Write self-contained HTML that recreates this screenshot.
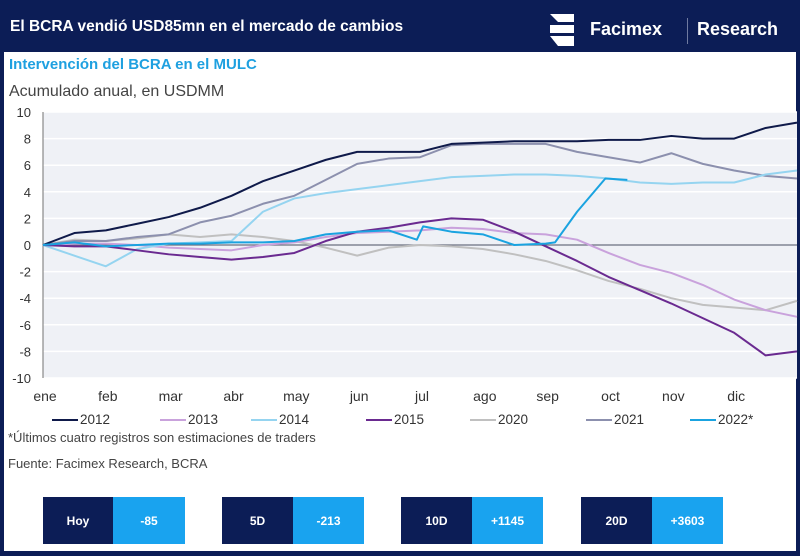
<!DOCTYPE html>
<html><head><meta charset="utf-8">
<style>
body{margin:0;background:#000;}
#frame{position:relative;width:800px;height:556px;background:#0c1d56;overflow:hidden;font-family:"Liberation Sans",sans-serif;}
#panel{position:absolute;left:4px;top:52px;width:792px;height:499px;background:#fff;}
.t{position:absolute;white-space:nowrap;}
.box{position:absolute;top:497px;height:47px;color:#fff;font-weight:bold;font-size:12px;display:flex;align-items:center;justify-content:center;}
</style></head><body>
<div id="frame">
<div class="t" style="left:10px;top:18px;color:#fff;font-weight:bold;font-size:15.5px;">El BCRA vendió USD85mn en el mercado de cambios</div>
<svg style="position:absolute;left:548px;top:12px" width="30" height="36" viewBox="0 0 30 36"><path d="M2 2h24v8H10z" fill="#fff"/><path d="M2 13h24v8H2z" fill="#fff"/><path d="M2 24h24v10H10z" fill="#fff"/></svg>
<div class="t" style="left:590px;top:19px;color:#fff;font-weight:bold;font-size:18px;">Facimex</div>
<div style="position:absolute;left:687px;top:18px;width:1px;height:26px;background:#6f7aa0"></div>
<div class="t" style="left:697px;top:19px;color:#fff;font-weight:bold;font-size:18px;">Research</div>
<div id="panel"></div>
<div class="t" style="left:9px;top:56px;color:#1ea0e0;font-weight:bold;font-size:15px;">Intervención del BCRA en el MULC</div>
<div class="t" style="left:9px;top:83px;color:#444;font-size:16px;">Acumulado anual, en USDMM</div>
<svg id="chart" style="position:absolute;left:0;top:100px" width="800" height="310"></svg>
<div id="legend" style="position:absolute;left:0;top:412px;width:800px;height:18px;"></div>
<div class="t" style="left:8px;top:430px;color:#444;font-size:13px;">*Últimos cuatro registros son estimaciones de traders</div>
<div class="t" style="left:8px;top:456px;color:#444;font-size:13px;">Fuente: Facimex Research, BCRA</div>
<div class="box" style="left:43px;width:70px;background:#0c1d56">Hoy</div>
<div class="box" style="left:113px;width:72px;background:#19a3ef">-85</div>
<div class="box" style="left:222px;width:71px;background:#0c1d56">5D</div>
<div class="box" style="left:293px;width:71px;background:#19a3ef">-213</div>
<div class="box" style="left:401px;width:71px;background:#0c1d56">10D</div>
<div class="box" style="left:472px;width:71px;background:#19a3ef">+1145</div>
<div class="box" style="left:581px;width:71px;background:#0c1d56">20D</div>
<div class="box" style="left:652px;width:71px;background:#19a3ef">+3603</div>
</div>
<script>
const monthLabels=["ene","feb","mar","abr","may","jun","jul","ago","sep","oct","nov","dic"];
const yTicks=[10,8,6,4,2,0,-2,-4,-6,-8,-10];
const tGrid=[0,0.5,1,1.5,2,2.5,3,3.5,4,4.5,5,5.5,6,6.5,7,7.5,8,8.5,9,9.5,10,10.5,11,11.5,12];
const s2012=[0,0.9,1.1,1.6,2.1,2.8,3.7,4.8,5.6,6.4,7.0,7.0,7.0,7.6,7.7,7.8,7.8,7.8,7.9,7.9,8.2,8.0,8.0,8.8,9.2];
const s2013=[0,0.1,0.1,0,-0.2,-0.3,-0.4,0,0.2,0.6,0.9,1.0,1.1,1.3,1.2,0.9,0.8,0.4,-0.6,-1.5,-2.1,-3.0,-4.1,-4.9,-5.4];
const s2014=[0,-0.8,-1.6,-0.3,0.1,0.2,0.3,2.5,3.5,3.9,4.2,4.5,4.8,5.1,5.2,5.3,5.3,5.2,5.0,4.7,4.6,4.7,4.7,5.3,5.6];
const s2015=[0,-0.1,-0.1,-0.4,-0.7,-0.9,-1.1,-0.9,-0.6,0.3,1.0,1.3,1.7,2.0,1.9,1.0,-0.1,-1.2,-2.4,-3.4,-4.4,-5.5,-6.6,-8.3,-8.0];
const s2020=[0,0.4,0.3,0.5,0.8,0.6,0.8,0.6,0.3,-0.2,-0.8,-0.2,0,-0.1,-0.3,-0.7,-1.2,-1.9,-2.7,-3.3,-4.0,-4.5,-4.7,-4.9,-4.2];
const s2021=[0,0.3,0.3,0.6,0.8,1.7,2.2,3.1,3.7,4.9,6.1,6.5,6.6,7.5,7.6,7.6,7.6,7.0,6.6,6.2,6.9,6.1,5.6,5.2,5.0];
const t2022=[0,0.5,1,1.5,2,2.5,3,3.5,4,4.5,5,5.5,5.95,6.05,6.5,7,7.5,8,8.15,8.5,8.95,9.3];
const s2022=[0,0.2,-0.1,0,0.1,0.1,0.2,0.2,0.3,0.8,1.0,1.1,0.4,1.4,1.0,0.8,0.0,0.1,0.2,2.5,5.0,4.9];
const seriesNames=["2012","2013","2014","2015","2020","2021","2022*"];
const colors=["#0f1a4a","#c9a2dc","#95d4f0","#6a2a90","#c0c0c0","#8c90ae","#1aa3e0"];
const ns="http://www.w3.org/2000/svg";
const svg=document.getElementById('chart');
const X0=43,X1=797,Y0=12,Y1=278;
const x=t=>X0+(X1-X0)*t/12;
const y=v=>Y0+(10-v)*(Y1-Y0)/20;
function mk(tag,attrs){const e=document.createElementNS(ns,tag);for(const k in attrs)e.setAttribute(k,attrs[k]);svg.appendChild(e);return e;}
const bg=mk('rect',{x:X0,y:Y0,width:X1-X0,height:Y1-Y0,fill:'#eff1f6'});


yTicks.forEach(v=>{
  const g=mk('line',{x1:X0,x2:X1,y1:y(v),y2:y(v),stroke:v===0?'#6b6f80':'#ffffff','stroke-width':v===0?1.2:1.5});
  
  
  const tx=mk('text',{x:31,y:y(v)+5,'text-anchor':'end','font-size':13,fill:'#333','font-family':'Liberation Sans'});
  tx.textContent=v;
  
  
});
const ax=mk('line',{x1:X0,x2:X0,y1:Y0,y2:Y1,stroke:'#888','stroke-width':1.2});


monthLabels.forEach((m,i)=>{
  const tx=mk('text',{x:x(i)+2,y:301,'text-anchor':'middle','font-size':14,fill:'#333','font-family':'Liberation Sans'});
  tx.textContent=m;
  
  
});
const data=[[tGrid,s2012],[tGrid,s2013],[tGrid,s2014],[tGrid,s2015],[tGrid,s2020],[tGrid,s2021],[t2022,s2022]];
const order=[4,1,5,2,3,0,6];
order.forEach(i=>{
  const [ts,vs]=data[i];
  const p=mk('polyline',{points:ts.map((t,j)=>x(t)+','+y(vs[j])).join(' '),fill:'none',stroke:colors[i],'stroke-width':2,'stroke-linejoin':'round'});
  
  
});
const lg=document.getElementById('legend');
const lx=[52,160,251,366,470,586,690];
seriesNames.forEach((n,i)=>{
  const d=document.createElement('div');
  
  
  d.style.cssText='position:absolute;top:0;left:'+lx[i]+'px;font-size:13.5px;color:#333;display:flex;align-items:center;white-space:nowrap';
  d.innerHTML='<span style="display:inline-block;width:26px;height:2px;background:'+colors[i]+';margin-right:2px"></span>'+n;
  lg.appendChild(d);
});
</script>
</body></html>
